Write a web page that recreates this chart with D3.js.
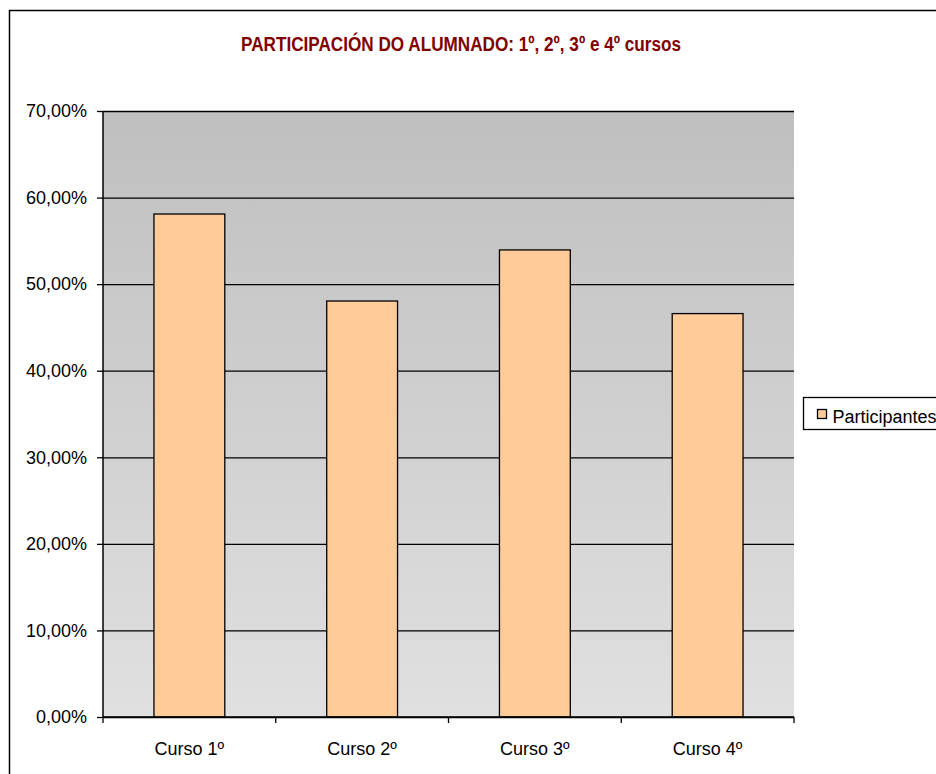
<!DOCTYPE html>
<html>
<head>
<meta charset="utf-8">
<script src="https://cdn.jsdelivr.net/npm/d3@7"></script>
<style>
  html, body { margin: 0; padding: 0; background: #fff; }
  svg { display: block; font-family: "Liberation Sans", Arial, sans-serif; }
</style>
</head>
<body>
<svg width="936" height="774"></svg>
<script>
const categories = ['Curso 1º', 'Curso 2º', 'Curso 3º', 'Curso 4º']
const participantes = [58.1, 48.05, 53.95, 46.6]
const yTicks = [0, 10, 20, 30, 40, 50, 60, 70]
const seriesName = 'Participantes'
const title = 'PARTICIPACIÓN DO ALUMNADO: 1º, 2º, 3º e 4º cursos'

const svg = d3.select('svg')
const marginLeft = 103
const marginTop = 111
const plotWidth = 691
const plotHeight = 606

// outer chart frame (runs off the right and bottom edges)
svg.append('rect')
    .attr('x', 9.5).attr('y', 10.5)
    .attr('width', 940).attr('height', 780)
    .attr('fill', '#fff').attr('stroke', '#000').attr('stroke-width', 1.5)

const defs = svg.append('defs')
const grad = defs.append('linearGradient')
    .attr('id', 'bg').attr('x1', 0).attr('y1', 0).attr('x2', 0).attr('y2', 1)
grad.append('stop').attr('offset', '0%').attr('stop-color', '#bfbfbf')
grad.append('stop').attr('offset', '100%').attr('stop-color', '#e0e0e0')

svg.append('text')
    .attr('x', 461).attr('y', 51)
    .attr('text-anchor', 'middle')
    .attr('font-size', 20).attr('font-weight', 'bold')
    .attr('fill', '#800000')
    .attr('textLength', 440).attr('lengthAdjust', 'spacingAndGlyphs')
    .text(title)

const x = d3.scaleBand().domain(categories).range([0, plotWidth])
    .paddingInner(0.59).paddingOuter(0.295)
const xBoundaries = d3.scaleBand().domain(categories).range([0, plotWidth])
const y = d3.scaleLinear().domain([0, 70]).range([plotHeight, 0])

const g = svg.append('g').attr('transform', `translate(${marginLeft}, ${marginTop})`)

g.append('rect')
    .attr('width', plotWidth).attr('height', plotHeight)
    .attr('fill', 'url(#bg)')

const yAxis = d3.axisLeft(y)
    .tickValues(yTicks)
    .tickSizeInner(-plotWidth)
    .tickSizeOuter(0)
    .tickFormat(d => d3.format('.2f')(d).replace('.', ',') + '%')
const yAxisG = g.append('g').call(yAxis)
yAxisG.select('.domain').remove()
yAxisG.selectAll('.tick line').attr('stroke', '#000').attr('stroke-width', 1.3)
yAxisG.selectAll('.tick')
    .append('line')
    .attr('x1', -6).attr('x2', 0)
    .attr('stroke', '#000').attr('stroke-width', 1.3)
yAxisG.selectAll('.tick text')
    .attr('x', -16)
    .attr('font-size', 18)
    .attr('font-family', '"Liberation Sans", Arial, sans-serif')
    .attr('fill', '#000')

g.selectAll('rect.bar')
    .data(participantes)
    .enter()
    .append('rect')
    .attr('class', 'bar')
    .attr('x', (d, i) => x(categories[i]))
    .attr('width', x.bandwidth())
    .attr('y', d => y(d))
    .attr('height', d => plotHeight - y(d))
    .attr('fill', '#ffcc99')
    .attr('stroke', '#000')
    .attr('stroke-width', 1.3)

// left axis line
g.append('line')
    .attr('x1', 0).attr('x2', 0).attr('y1', 0).attr('y2', plotHeight)
    .attr('stroke', '#000').attr('stroke-width', 1.5)

const xAxisG = g.append('g').attr('transform', `translate(0, ${plotHeight})`)
xAxisG.append('line')
    .attr('x1', 0).attr('x2', plotWidth)
    .attr('stroke', '#000').attr('stroke-width', 1.5)
const boundaries = categories.map(c => xBoundaries(c)).concat([plotWidth])
xAxisG.selectAll('line.tick')
    .data(boundaries)
    .enter()
    .append('line')
    .attr('class', 'tick')
    .attr('x1', d => d).attr('x2', d => d)
    .attr('y1', 0).attr('y2', 6)
    .attr('stroke', '#000').attr('stroke-width', 1.3)
xAxisG.selectAll('text')
    .data(categories)
    .enter()
    .append('text')
    .attr('x', d => xBoundaries(d) + xBoundaries.bandwidth() / 2)
    .attr('y', 38)
    .attr('text-anchor', 'middle')
    .attr('font-size', 18)
    .attr('fill', '#000')
    .text(d => d)

// legend
const legend = svg.append('g').attr('transform', 'translate(803.5, 397.5)')
legend.append('rect')
    .attr('width', 150).attr('height', 32)
    .attr('fill', '#fff').attr('stroke', '#000').attr('stroke-width', 1.3)
legend.append('rect')
    .attr('x', 14).attr('y', 12).attr('width', 9).attr('height', 9)
    .attr('fill', '#ffcc99').attr('stroke', '#000').attr('stroke-width', 1.3)
legend.append('text')
    .attr('x', 29).attr('y', 25)
    .attr('font-size', 18)
    .attr('fill', '#000')
    .text(seriesName)
</script>
</body>
</html>
